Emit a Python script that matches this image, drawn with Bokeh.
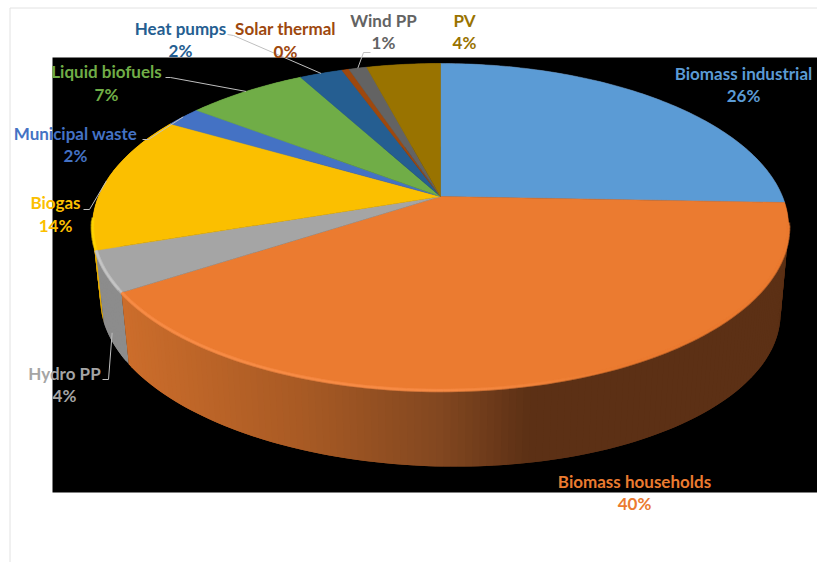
import numpy as np
from bokeh.core.properties import value
from bokeh.embed import file_html
from bokeh.models import ColumnDataSource
from bokeh.plotting import figure
from bokeh.resources import INLINE

# Shares of renewable energy supply, clockwise from twelve o'clock
categories = ["Biomass industrial", "Biomass households", "Hydro PP", "Biogas",
              "Municipal waste", "Liquid biofuels", "Heat pumps", "Solar thermal",
              "Wind PP", "PV"]
shares = [25.6, 40.2, 4.0, 13.6, 2.0, 6.7, 2.4, 0.4, 1.0, 4.1]
colors = ["#5B9BD5", "#EB7B30", "#A5A5A5", "#FBBF00", "#4472C4",
          "#70AD47", "#255E91", "#9E480E", "#636363", "#997300"]
wall_colors = ["#5C3015", None, "#8C8C8C", "#E8AE00", "#2F4F88",
               "#4E7831", "#1A4165", "#6E3209", "#454545", "#6A5000"]
rim_colors = ["#5B9BD5", None, "#C6C6C6", "#FFD500", "#4472C4",
              "#70AD47", "#255E91", "#9E480E", "#636363", "#997300"]

# Label anchors: centre x, name line y, percentage line y
label_x = [743, 634, 64, 55, 75, 106, 180, 285, 383, 464]
label_y1 = [73, 481, 373, 202, 133, 71, 28, 28, 20, 20]
label_y2 = [95, 503, 395, 225, 155, 94, 50, 51, 42, 42]

# Leader elbows: where the line leaves the label, and its bend
leader_start = {2: (102, 379), 3: (83, 209), 4: (142, 139), 5: (165, 77), 6: (227, 34), 8: (370, 52)}
leader_bend = {2: (108, 379), 3: (89, 209), 4: (148, 139), 5: (170, 77), 6: (233, 35), 8: (363, 52)}

# Perspective disc: the hub sits above the centre of the rim ellipse
HUB_X, HUB_Y = 440.0, 196.0
PERSP = 0.1865
SCALE_U, SCALE_V = 342.0, 157.8
TOP_CY, TOP_RX, TOP_RY = 226.5, 348.0, 163.5
BOT_CY, BOT_RX, BOT_RY, BOT_SHEAR = 306.0, 340.0, 160.0, 0.02


def rim(theta):
    u, v = np.sin(theta), -np.cos(theta)
    w = 1 - PERSP * v
    return HUB_X + SCALE_U * u / w, HUB_Y + SCALE_V * v / w


def base(x, y):
    bx = HUB_X + BOT_RX * (x - HUB_X) / TOP_RX
    by = BOT_CY + BOT_RY * (y - TOP_CY) / TOP_RY + BOT_SHEAR * (bx - HUB_X)
    return bx, by


def blend(stops, x):
    xs = [s[0] for s in stops]
    chans = [np.interp(x, xs, [s[1][i] for s in stops]) for i in range(3)]
    return "#%02X%02X%02X" % tuple(int(round(c)) for c in chans)


ORANGE_WALL = [(122, (204, 109, 43)), (300, (168, 90, 36)), (440, (130, 71, 32)),
               (530, (92, 48, 21)), (800, (92, 48, 21))]
ORANGE_RIM = [(122, (248, 140, 70)), (440, (248, 140, 70)), (620, (235, 123, 48)), (800, (235, 123, 48))]

edges = np.concatenate([[0], np.cumsum(shares)]) / sum(shares) * 2 * np.pi

tops, walls, rims = [], [], []
for i in range(len(shares)):
    n = max(3, int((edges[i + 1] - edges[i]) / np.radians(1.0)) + 1)
    th = np.linspace(edges[i], edges[i + 1], n)
    x, y = rim(th)
    tops.append((list(np.r_[HUB_X, x]), list(np.r_[HUB_Y, y]), colors[i]))
    bx, by = base(x, y)
    group = []
    for j in range(n - 1):
        # each strip reaches over its neighbour so no seam shows between them
        e = min(j + 2, n - 1)
        mx = (x[j] + x[j + 1]) / 2
        wc = wall_colors[i] or blend(ORANGE_WALL, mx)
        rc = rim_colors[i] or blend(ORANGE_RIM, mx)
        group.append(([x[j], x[e], bx[e], bx[j]], [y[j], y[e], by[e], by[j]], wc))
        if (y[j] + y[j + 1]) / 2 > TOP_CY - 5:
            rims.append(([x[j], x[e]], [y[j], y[e]], rc))
    walls.append((float(np.mean(y)), group))

walls.sort(key=lambda g: g[0])
quads = [q for _, g in walls for q in g]

p = figure(width=817, height=562, x_range=(0, 817), y_range=(562, 0),
           output_backend="svg", toolbar_location=None, min_border=0,
           background_fill_color="white", border_fill_color="white", outline_line_color=None)
p.axis.visible = False
p.grid.visible = False

# Frame of the sheet and the dark plot area
p.line([9.5, 9.5, 817], [562, 7.5, 7.5], line_color="#E2E2E2", line_width=1)
p.quad(left=[52], right=[817], top=[57], bottom=[492], fill_color="black", line_color=None)

p.patches([q[0] for q in quads], [q[1] for q in quads], fill_color=[q[2] for q in quads],
          line_color=None)
p.patches([q[0] for q in tops], [q[1] for q in tops], fill_color=[q[2] for q in tops],
          line_color=[q[2] for q in tops], line_width=0.5)
p.multi_line([q[0] for q in rims], [q[1] for q in rims], line_color=[q[2] for q in rims],
             line_width=3.5, line_alpha=0.45)
p.multi_line([q[0] for q in rims], [q[1] for q in rims], line_color=[q[2] for q in rims],
             line_width=1.6, line_alpha=0.8)

# Leader lines end on the slice each label names; Hydro PP's ends on the side wall
xs, ys = [], []
for i in sorted(leader_start):
    mid = (edges[i] + edges[i + 1]) / 2
    ex, ey = rim(mid)
    if ey > TOP_CY + 5:
        bx, by = base(ex, ey)
        ex, ey = ex + 0.85 * (bx - ex), ey + 0.85 * (by - ey)
    sx, sy = leader_start[i]
    kx, ky = leader_bend[i]
    xs.append([sx, kx, float(ex)])
    ys.append([sy, ky, float(ey)])
p.multi_line(xs, ys, line_color="#BFBFBF", line_width=1)

src = ColumnDataSource(dict(
    x=label_x * 2,
    y=label_y1 + label_y2,
    text=categories + [f"{round(s)}%" for s in shares],
    color=colors * 2,
))
p.text("x", "y", text="text", source=src, text_color="color", text_align="center",
       text_baseline="middle", text_font=value("Lato"), text_font_style="bold",
       text_font_size="17px")

open("out.html", "w").write(file_html(p, INLINE))
